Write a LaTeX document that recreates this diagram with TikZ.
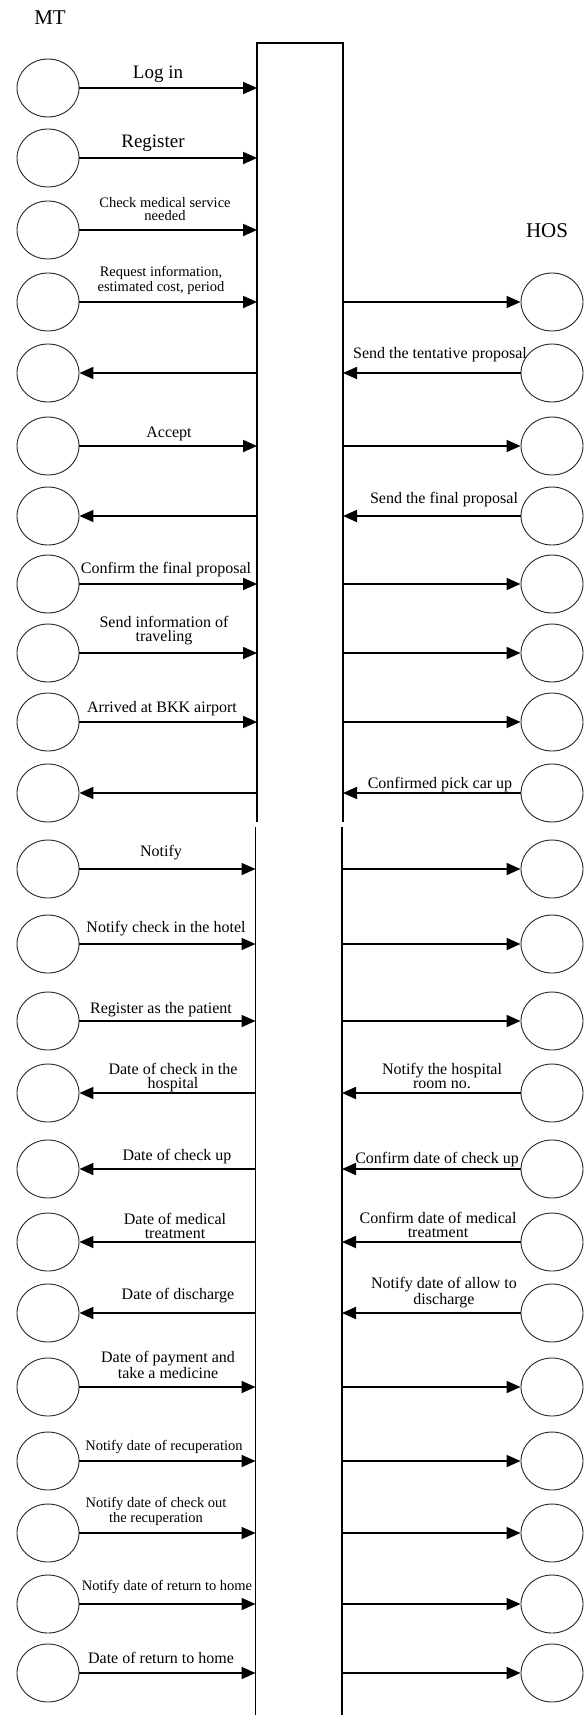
\documentclass[tikz,border=0pt]{standalone}
\usepackage{fontspec}
\setmainfont{Liberation Serif}
\usetikzlibrary{arrows.meta,shapes.geometric}
\begin{document}
\begin{tikzpicture}[x=1pt,y=-1pt,
  actor/.style={draw=black!85,line width=0.9pt,ellipse,minimum width=62pt,minimum height=58pt,inner sep=0pt},
  msg/.style={line width=1.8pt},
  fwd/.style={-{Triangle[length=14pt,width=12pt]}},
  back/.style={{Triangle[length=14pt,width=12pt]}-},
  lifeline/.style={line width=1.3pt},
  lbl/.style={font=\fontsize{16}{14}\selectfont,align=center,anchor=base,inner sep=0pt},
  lbls/.style={font=\fontsize{14.5}{12.5}\selectfont,align=center,anchor=base,inner sep=0pt},
  lblb/.style={font=\fontsize{19}{20}\selectfont,anchor=base,inner sep=0pt},
  heading/.style={font=\fontsize{21}{22}\selectfont,anchor=base,inner sep=0pt}]
\useasboundingbox (0,0) rectangle (584,1715);
\fill[white] (0,0) rectangle (584,1715);

% actor headings
\node[heading] (mt) at (50,25) {MT};
\node[heading] (hos) at (547,237) {HOS};

% system box, drawn in two pieces
\draw[lifeline] (257,822) -- (257,43) -- (343,43) -- (343,822);
\draw[lifeline] (255.5,827) -- (255.5,1715);
\draw[lifeline] (342,827) -- (342,1715);

% MT side, upper part
\foreach \i/\y/\d in {1/88/fwd,2/158/fwd,3/230/fwd,4/302/fwd,5/373/back,6/446/fwd,
                      7/516/back,8/584/fwd,9/653/fwd,10/722/fwd,11/793/back}{
  \node[actor] (m\i) at (48,\y) {};
  \coordinate (l\i) at (257,\y);
  \draw[msg,\d] (m\i.east) -- (l\i);
}
% MT side, lower part
\foreach \i/\y/\d in {12/869/fwd,13/944/fwd,14/1021/fwd,15/1093/back,16/1169/back,
                      17/1242/back,18/1313/back,19/1387/fwd,20/1461/fwd,21/1533/fwd,
                      22/1604/fwd,23/1673/fwd}{
  \node[actor] (m\i) at (48,\y) {};
  \coordinate (l\i) at (255.5,\y);
  \draw[msg,\d] (m\i.east) -- (l\i);
}
% HOS side, upper part
\foreach \i/\y/\d in {4/302/fwd,5/373/back,6/446/fwd,7/516/back,8/584/fwd,
                      9/653/fwd,10/722/fwd,11/793/back}{
  \node[actor] (h\i) at (552,\y) {};
  \coordinate (r\i) at (343,\y);
  \draw[msg,\d] (r\i) -- (h\i.west);
}
% HOS side, lower part
\foreach \i/\y/\d in {12/869/fwd,13/944/fwd,14/1021/fwd,15/1093/back,16/1169/back,
                      17/1242/back,18/1313/back,19/1387/fwd,20/1461/fwd,21/1533/fwd,
                      22/1604/fwd,23/1673/fwd}{
  \node[actor] (h\i) at (552,\y) {};
  \coordinate (r\i) at (342,\y);
  \draw[msg,\d] (r\i) -- (h\i.west);
}

% message labels, MT side
\node[lblb] (a1) at (158,79) {Log in};
\node[lblb] (a2) at (153,148) {Register};
\node[lbls] (a3) at (165,220) {Check medical service\\needed};
\node[lbls] (a4) at (161,291) {Request information,\\estimated cost, period};
\node[lbl] (a6) at (169,437) {Accept};
\node[lbl] (a8) at (166,573) {Confirm the final proposal};
\node[lbl] (a9) at (164,641) {Send information of\\traveling};
\node[lbl] (a10) at (162,712) {Arrived at BKK airport};
\node[lbl] (a12) at (161,856) {Notify};
\node[lbl] (a13) at (166,932) {Notify check in the hotel};
\node[lbl] (a14) at (161,1013) {Register as the patient};
\node[lbl] (a15) at (173,1088) {Date of check in the\\hospital};
\node[lbl] (a16) at (177,1160) {Date of check up};
\node[lbl] (a17) at (175,1238) {Date of medical\\treatment};
\node[lbl] (a18) at (178,1299) {Date of discharge};
\node[lbl] (a19) at (168,1378) {Date of payment and\\take a medicine};
\node[lbls] (a20) at (164,1450) {Notify date of recuperation};
\node[lbls] (a21) at (156,1522) {Notify date of check out\\the recuperation};
\node[lbls] (a22) at (167,1590) {Notify date of return to home};
\node[lbl] (a23) at (161,1663) {Date of return to home};

% message labels, HOS side
\node[lbl] (b5) at (440,358) {Send the tentative proposal};
\node[lbl] (b7) at (444,503) {Send the final proposal};
\node[lbl] (b11) at (440,788) {Confirmed pick car up};
\node[lbl] (b15) at (442,1088) {Notify the hospital\\room no.};
\node[lbl] (b16) at (437,1163) {Confirm date of check up};
\node[lbl] (b17) at (438,1237) {Confirm date of medical\\treatment};
\node[lbl] (b18) at (444,1304) {Notify date of allow to\\discharge};
\end{tikzpicture}
\end{document}
